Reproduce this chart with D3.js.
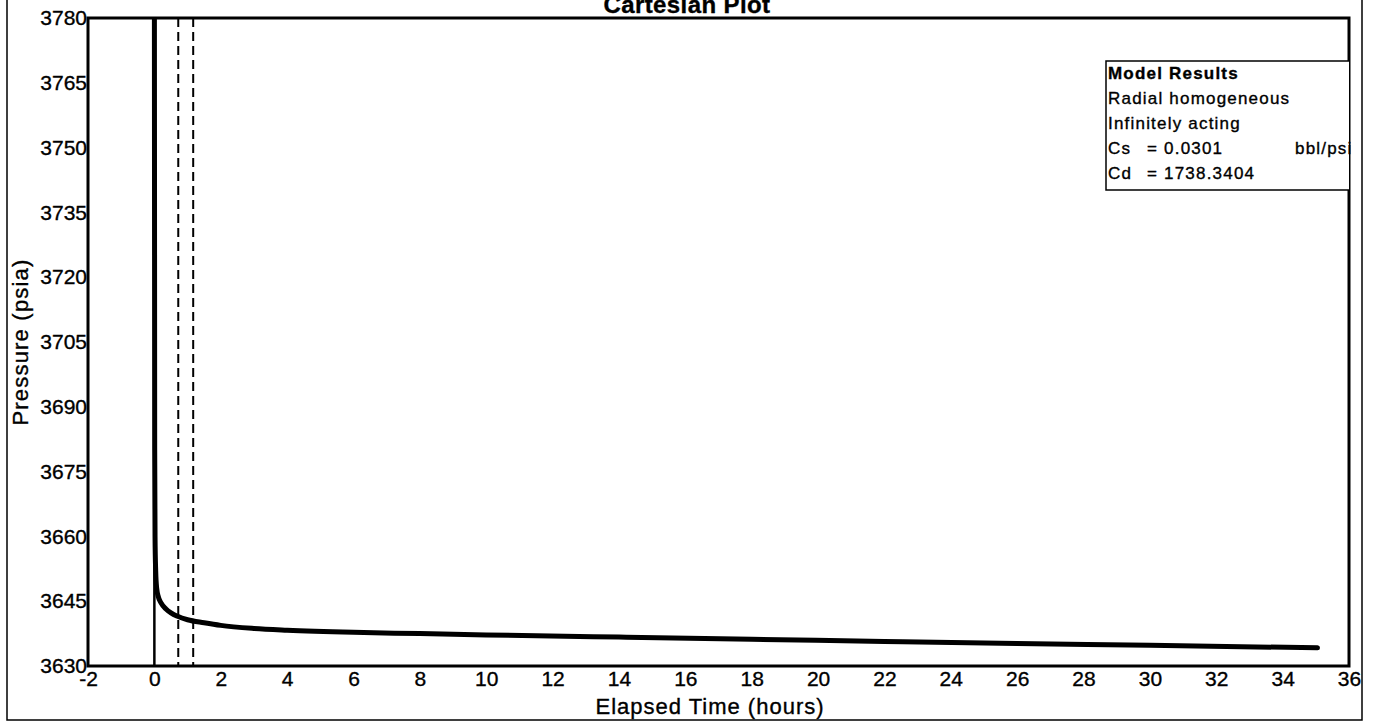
<!DOCTYPE html>
<html>
<head>
<meta charset="utf-8">
<script src="https://cdn.jsdelivr.net/npm/d3@7"></script>
<style>
  html, body { margin: 0; padding: 0; background: #fff; }
  svg { display: block; font-family: "Liberation Sans", Arial, sans-serif; }
  svg text { fill: #000; stroke: #000; stroke-width: 0.35px; }
</style>
</head>
<body>
<svg id="chart" width="1374" height="723"></svg>
<script>
// Elapsed time (hours) and modelled pressure (psia)
const timeHours = [0.0, 0.01, 0.02, 0.04, 0.07, 0.12, 0.2, 0.35, 0.5, 0.7, 1.0, 1.5, 2, 3, 4, 6, 8, 10, 14, 18, 22, 26, 30, 35.05];
const pressurePsia = [3790, 3680, 3660, 3652, 3648, 3646, 3644.6, 3643.2, 3642.3, 3641.5, 3640.7, 3640.0, 3639.4, 3638.7, 3638.3, 3637.8, 3637.5, 3637.2, 3636.7, 3636.2, 3635.7, 3635.2, 3634.8, 3634.2];

// Event markers: solid at time zero, dashed at the analysis window
const eventSolid = [0];
const eventDashed = [0.72, 1.17];

// Axis ticks
const xTicks = [-2, 0, 2, 4, 6, 8, 10, 12, 14, 16, 18, 20, 22, 24, 26, 28, 30, 32, 34, 36];
const yTicks = [3630, 3645, 3660, 3675, 3690, 3705, 3720, 3735, 3750, 3765, 3780];

// Model results panel
const legendLines = ["Model Results", "Radial homogeneous", "Infinitely acting"];
const legendParams = [["Cs", "= 0.0301", "bbl/psi"], ["Cd", "= 1738.3404", ""]];

const svg = d3.select("#chart");
const plot = { left: 88, right: 1349, top: 18, bottom: 666 };

const x = d3.scaleLinear().domain([-2, 36]).range([plot.left, plot.right]);
const y = d3.scaleLinear().domain([3630, 3780]).range([plot.bottom, plot.top]);

// Outer page frame
svg.append("path")
  .attr("d", `M7,-2 V720 H1362 V-2`)
  .attr("fill", "none").attr("stroke", "#000").attr("stroke-width", 1.5);

// Title
svg.append("text")
  .attr("x", 687)
  .attr("y", 13)
  .attr("text-anchor", "middle")
  .attr("font-weight", "bold")
  .attr("font-size", 24)
  .attr("letter-spacing", 0.4)
  .text("Cartesian Plot");

// Clip for marks
svg.append("clipPath").attr("id", "clip")
  .append("rect")
  .attr("x", plot.left).attr("y", plot.top)
  .attr("width", plot.right - plot.left).attr("height", plot.bottom - plot.top);

const marks = svg.append("g").attr("clip-path", "url(#clip)");

marks.selectAll("line.solid").data(eventSolid).join("line")
  .attr("class", "solid")
  .attr("x1", d => x(d)).attr("x2", d => x(d))
  .attr("y1", plot.top).attr("y2", plot.bottom)
  .attr("stroke", "#000").attr("stroke-width", 2.5);

marks.selectAll("line.dashed").data(eventDashed).join("line")
  .attr("class", "dashed")
  .attr("x1", d => x(d)).attr("x2", d => x(d))
  .attr("y1", plot.top).attr("y2", plot.bottom)
  .attr("stroke", "#000").attr("stroke-width", 2)
  .attr("stroke-dasharray", "9,5");

const line = d3.line()
  .x((d, i) => x(timeHours[i]))
  .y(d => y(d))
  .curve(d3.curveMonotoneX);

marks.append("path")
  .datum(pressurePsia)
  .attr("d", line)
  .attr("fill", "none")
  .attr("stroke", "#000")
  .attr("stroke-width", 5)
  .attr("stroke-linecap", "round")
  .attr("stroke-linejoin", "round");

// Axes (plain hyphen for negatives)
const fmt = d => String(d);
const xAxis = d3.axisBottom(x).tickValues(xTicks).tickSize(0).tickPadding(5).tickFormat(fmt);
const yAxis = d3.axisLeft(y).tickValues(yTicks).tickSize(0).tickPadding(1).tickFormat(fmt);

const gx = svg.append("g").attr("transform", `translate(0,${plot.bottom})`).call(xAxis);
const gy = svg.append("g").attr("transform", `translate(${plot.left},0)`).call(yAxis);
[gx, gy].forEach(g => {
  g.select(".domain").remove();
  g.selectAll("text").attr("font-size", 21)
    .attr("font-family", "Liberation Sans, Arial, sans-serif");
});

// Plot frame
svg.append("rect")
  .attr("x", plot.left).attr("y", plot.top)
  .attr("width", plot.right - plot.left).attr("height", plot.bottom - plot.top)
  .attr("fill", "none").attr("stroke", "#000").attr("stroke-width", 3);

// Axis titles
svg.append("text")
  .attr("x", 710)
  .attr("y", 714)
  .attr("text-anchor", "middle")
  .attr("font-size", 22)
  .attr("letter-spacing", 1)
  .text("Elapsed Time (hours)");

svg.append("text")
  .attr("transform", `translate(28,${(plot.top + plot.bottom) / 2}) rotate(-90)`)
  .attr("text-anchor", "middle")
  .attr("font-size", 22)
  .attr("letter-spacing", 1.2)
  .text("Pressure (psia)");

// Model results panel
const lg = { left: 1106, top: 61, bottom: 190, lineH: 25 };
const legend = svg.append("g");
legend.append("path")
  .attr("d", `M${plot.right},${lg.top} H${lg.left} V${lg.bottom} H${plot.right}`)
  .attr("fill", "#fff").attr("stroke", "#000").attr("stroke-width", 1.5);

const fs = 17, ls = 1.2;
legend.selectAll("text.line").data(legendLines).join("text")
  .attr("class", "line")
  .attr("x", lg.left + 2)
  .attr("y", (d, i) => lg.top + 18 + i * lg.lineH)
  .attr("font-size", fs)
  .attr("letter-spacing", ls)
  .attr("font-weight", (d, i) => i === 0 ? "bold" : "normal")
  .text(d => d);

const params = legend.selectAll("g.param").data(legendParams).join("g")
  .attr("class", "param")
  .attr("transform", (d, i) => `translate(0,${lg.top + 18 + (legendLines.length + i) * lg.lineH})`);
params.append("text").attr("x", lg.left + 2).attr("font-size", fs).attr("letter-spacing", ls).text(d => d[0]);
params.append("text").attr("x", lg.left + 41).attr("font-size", fs).attr("letter-spacing", ls).text(d => d[1]);
params.append("text").attr("x", lg.left + 189).attr("font-size", fs).attr("letter-spacing", ls).text(d => d[2]);
</script>
</body>
</html>
